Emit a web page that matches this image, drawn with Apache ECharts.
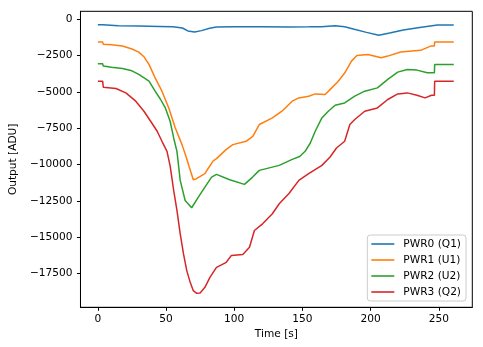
<!DOCTYPE html>
<html><head><meta charset="utf-8">
<script src="https://cdn.jsdelivr.net/npm/echarts@6/dist/echarts.min.js"></script>
<style>html,body{margin:0;padding:0;background:#fff}#c{width:483px;height:347px}</style>
</head><body><div id="c"></div>
<script>
const seriesNames = ['PWR0 (Q1)', 'PWR1 (U1)', 'PWR2 (U2)', 'PWR3 (Q2)'];
const colors = ['#1f77b4', '#ff7f0e', '#2ca02c', '#d62728'];
const xTicks = [0, 50, 100, 150, 200, 250];
const yTicks = [0, -2500, -5000, -7500, -10000, -12500, -15000, -17500];

const t0 = [0,3.5,4,15,30,45,55,62,66,71,76,82,87,100,120,140,155,164,174,181,188,197,206,214,224,236,249,261];
const pwr0 = [-370,-370,-430,-450,-470,-490,-510,-600,-800,-877,-780,-620,-532,-520,-520,-530,-520,-510,-440,-520,-690,-900,-1105,-950,-740,-560,-394,-394];

const t1 = [0,3.5,4,10,18,25,30,34,37.5,42,47,52,56.8,61.7,65,67,70,72,78.5,80,84.6,87,94,99,108.7,113.6,118.4,128,135,142.5,147.4,154.6,159.4,166.7,171.5,176,181,186,190,198,207.8,212.6,222,236.7,244,246.8,247,261];
const pwr1 = [-1568,-1568,-1727,-1760,-1844,-2050,-2258,-2600,-3108,-4033,-4952,-6105,-7486,-8633,-9558,-10180,-11050,-11000,-10635,-10400,-9750,-9600,-8978,-8633,-8404,-8059,-7250,-6795,-6332,-5642,-5414,-5297,-5138,-5180,-4724,-4300,-3700,-2880,-2500,-2418,-2652,-2535,-2258,-2140,-1844,-1844,-1568,-1568];

const t2 = [0,3.5,4,10,18,25,30,37.5,42,46,49.5,53,55.6,58,60.4,64,68.8,73.7,78.5,83.4,87,96.7,107.5,113.5,118.4,133,142.5,148,152,155.8,159.4,164.3,169,174,181,188.4,195.7,205,212.6,219.9,227,234,241.6,246.8,247,261];
const pwr2 = [-3066,-3066,-3225,-3300,-3384,-3550,-3800,-4261,-4952,-5525,-6105,-7023,-8175,-9095,-11098,-12480,-12983,-12250,-11560,-10870,-10683,-11050,-11374,-10870,-10407,-10062,-9650,-9450,-9095,-8522,-7714,-6795,-6332,-5918,-5760,-5297,-4952,-4724,-4144,-3640,-3453,-3500,-3686,-3686,-3108,-3108];

const t3 = [0,3.5,4,13.3,20.5,27.8,33.8,38.7,43.5,47,50.7,53,55.6,58,60.4,62.8,65.2,67.7,70,72.5,75,78.5,82.2,87,94.2,97.8,106.3,111.2,114.8,120.8,128,133,140,147.4,154.6,164.3,170.3,175,181,184.8,188.4,195.7,205,212.6,219.9,227,234,240,244.7,246.8,247,261];
const pwr3 = [-4261,-4261,-4675,-4765,-5069,-5642,-6332,-7023,-7714,-8404,-9095,-10100,-11788,-13170,-14779,-16160,-17313,-18121,-18695,-18880,-18850,-18466,-17776,-17085,-16740,-16278,-16209,-15704,-14551,-14090,-13398,-12707,-12017,-11098,-10635,-10062,-9490,-8868,-8404,-7250,-6906,-6332,-6105,-5525,-5138,-5069,-5228,-5414,-5228,-5228,-4261,-4261];

const times = [t0, t1, t2, t3];
const vals = [pwr0, pwr1, pwr2, pwr3];

const FONT = 'DejaVu Sans';
const FS = 10.6;
const fmt = v => String(v).replace('-', '\u2212');

const chart = echarts.init(document.getElementById('c'), null, {renderer: 'canvas'});
chart.setOption({
  animation: false,
  backgroundColor: '#fff',
  grid: {left: 75.7, right: 10.7, top: 11.3, bottom: 39.7, show: true, borderColor: '#000', borderWidth: 1, containLabel: false},
  xAxis: {
    type: 'value', min: -12.75, max: 274.6,
    name: 'Time [s]', nameLocation: 'middle', nameGap: 20,
    nameTextStyle: {fontFamily: FONT, fontSize: FS, color: '#000'},
    axisLine: {show: true, onZero: false, lineStyle: {color: '#000', width: 1}},
    axisTick: {show: true, length: 3.5, lineStyle: {color: '#000'}, customValues: xTicks},
    axisLabel: {fontFamily: FONT, fontSize: FS, color: '#000', margin: 6, customValues: xTicks, formatter: fmt},
    splitLine: {show: false}
  },
  yAxis: {
    type: 'value', min: -19840, max: 551,
    name: 'Output [ADU]', nameLocation: 'middle', nameGap: 58, nameRotate: 90,
    nameTextStyle: {fontFamily: FONT, fontSize: FS, color: '#000'},
    axisLine: {show: true, onZero: false, lineStyle: {color: '#000', width: 1}},
    axisTick: {show: true, length: 3.5, lineStyle: {color: '#000'}, customValues: yTicks},
    axisLabel: {fontFamily: FONT, fontSize: FS, color: '#000', margin: 8, customValues: yTicks, formatter: fmt},
    splitLine: {show: false}
  },
  legend: {
    orient: 'vertical', right: 17, bottom: 46,
    data: seriesNames,
    icon: 'rect', itemWidth: 23, itemHeight: 1.6, itemGap: 4,
    padding: [3, 5, 3, 4],
    backgroundColor: 'rgba(255,255,255,0.8)', borderColor: '#cccccc', borderWidth: 1, borderRadius: 3,
    textStyle: {fontFamily: FONT, fontSize: FS, color: '#000', lineHeight: 12, padding: [0, 0, 0, 4]}
  },
  series: seriesNames.map((n, i) => ({
    name: n, type: 'line', showSymbol: false, symbol: 'none',
    color: colors[i],
    lineStyle: {width: 1.5, color: colors[i]},
    data: times[i].map((t, j) => [t, vals[i][j]])
  }))
});
</script></body></html>
